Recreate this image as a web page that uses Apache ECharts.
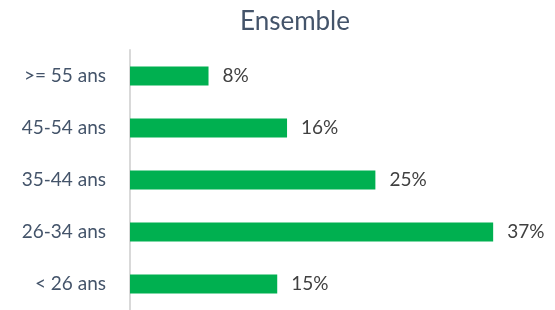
<!DOCTYPE html>
<html>
<head>
<meta charset="utf-8">
<script src="https://cdn.jsdelivr.net/npm/echarts@6/dist/echarts.min.js"></script>
<style>
  html, body { margin: 0; padding: 0; background: #fff; }
  #chart { width: 555px; height: 310px; }
</style>
</head>
<body>
<div id="chart"></div>
<script>
  const categories = ['< 26 ans', '26-34 ans', '35-44 ans', '45-54 ans', '>= 55 ans'];
  const shares = [15, 37, 25, 16, 8];

  const chart = echarts.init(document.getElementById('chart'));

  chart.setOption({
    animation: false,
    title: {
      text: 'Ensemble',
      left: 290,
      textAlign: 'center',
      top: 4,
      textStyle: {
        fontFamily: 'Lato',
        fontWeight: 'normal',
        fontSize: 26,
        color: '#44546a'
      }
    },
    grid: {left: 130, top: 50, width: 425, height: 264, containLabel: false},
    xAxis: {
      type: 'value',
      min: 0,
      max: 43.3,
      show: false
    },
    yAxis: {
      type: 'category',
      data: categories,
      axisLine: {show: true, lineStyle: {color: '#d9d9d9', width: 2}},
      axisTick: {show: false},
      axisLabel: {
        margin: 24,
        fontFamily: 'Lato',
        fontSize: 19,
        color: '#44546a'
      }
    },
    series: [{
      type: 'bar',
      data: shares,
      barWidth: 19,
      itemStyle: {color: '#00b050'},
      label: {
        show: true,
        position: 'right',
        distance: 14,
        formatter: (p) => p.value + '%',
        fontFamily: 'Lato',
        fontSize: 19,
        color: '#404040'
      }
    }]
  });
</script>
</body>
</html>
